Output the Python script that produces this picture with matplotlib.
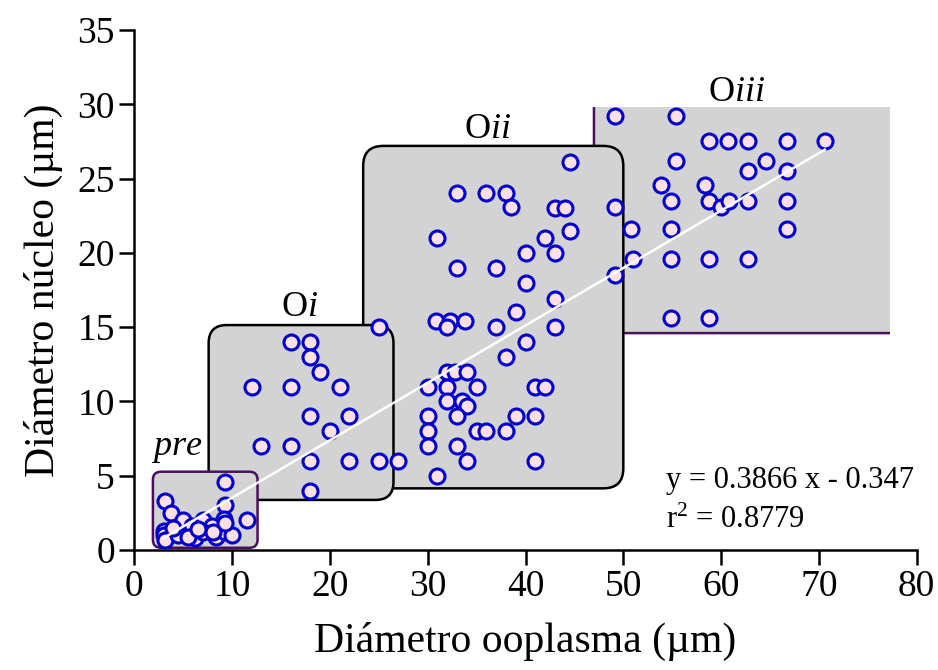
import matplotlib
matplotlib.use("Agg")
import matplotlib.pyplot as plt
from matplotlib.patches import FancyBboxPatch, Rectangle

plt.rcParams['font.family'] = ['Liberation Serif', 'DejaVu Serif']
plt.rcParams['mathtext.fontset'] = 'custom'
plt.rcParams['mathtext.rm'] = 'Liberation Serif'
plt.rcParams['mathtext.it'] = 'Liberation Serif:italic'

# measured diameters (um), one list per oocyte stage
pre_x = [3.1, 9.3, 9.3, 3.8, 5.0, 7.0, 9.2, 11.5, 3.0, 3.0, 3.1, 4.5, 5.9, 6.2,
         6.2, 7.9, 8.4, 9.3, 10.0, 9.3, 4.0, 5.5, 7.0, 8.0, 6.5]
pre_y = [3.3, 4.6, 3.0, 2.5, 2.0, 2.0, 2.1, 2.0, 1.3, 1.0, 0.7, 1.0, 1.6, 1.0,
         0.8, 1.6, 0.9, 1.2, 1.0, 1.8, 1.5, 0.9, 1.2, 1.2, 1.4]

oi_x = [16, 18, 18, 19, 12, 16, 21, 18, 22, 20, 13, 16, 18, 22, 25, 27, 18, 25]
oi_y = [14, 14, 13, 12, 11, 11, 11, 9, 9, 8, 7, 7, 6, 6, 6, 6, 4, 15]

oii_x = [44.5, 33, 36, 38, 38.5, 43, 44, 44.5, 31, 42, 40, 43, 33, 37, 40, 43,
         39, 30.8, 32.3, 33.8, 32, 37, 43, 40, 38, 32, 32.8, 34, 30, 32, 35, 41,
         42, 32, 33.5, 34, 30, 33, 39, 41, 30, 35, 36, 38, 30, 33, 34, 41, 31]
oii_y = [26.1, 24, 24, 24, 23.1, 23, 23, 21.5, 21, 21, 20, 20, 19, 19, 18, 16.9,
         16, 15.4, 15.4, 15.4, 15, 15, 15, 14, 13, 12, 12, 12, 11, 11, 11, 11,
         11, 10, 10, 9.7, 9, 9, 9, 9, 8, 8, 8, 8, 7, 7, 6, 6, 5]

oiii_x = [49.2, 55.4, 58.8, 60.7, 62.7, 66.7, 70.6, 55.4, 64.6, 62.7, 66.7, 53.9,
          58.4, 54.9, 58.8, 60.0, 60.8, 62.7, 66.7, 49.2, 50.8, 54.9, 66.7, 51.0,
          54.9, 58.8, 62.7, 49.2, 54.9, 58.8]
oiii_y = [29.2, 29.2, 27.5, 27.5, 27.5, 27.5, 27.5, 26.2, 26.2, 25.5, 25.5, 24.6,
          24.6, 23.5, 23.5, 23.1, 23.5, 23.5, 23.5, 23.1, 21.6, 21.6, 21.6, 19.6,
          19.6, 19.6, 19.6, 18.5, 15.6, 15.6]

# linear fit shown on the chart
slope = 0.3866
intercept = -0.347
r2 = 0.8779

# stage boxes: name, x0, x1, y0, y1
stage_names = ['Oiii', 'Oii', 'Oi', 'pre']
stage_x0 = [47.0, 23.4, 7.6, 1.9]
stage_x1 = [84.0, 50.0, 26.5, 12.6]
stage_y0 = [14.6, 4.15, 3.37, 0.15]
stage_y1 = [31.0, 27.2, 15.14, 5.27]
edge_colors = ['#4a0f5c', 'black', 'black', '#4a0f5c']
corner_px = [16, 20, 18, 8]

fig = plt.figure(figsize=(9.38, 6.70), dpi=100)
ax = fig.add_axes([0.1432, 0.1791, 0.8341, 0.7761])
ax.set_xlim(0, 80)
ax.set_ylim(0, 35)

px_x = 0.8341 * 938 / 80
px_y = 0.7761 * 670 / 35
for i in range(4):
    box = FancyBboxPatch((stage_x0[i], stage_y0[i]),
                         stage_x1[i] - stage_x0[i], stage_y1[i] - stage_y0[i],
                         boxstyle=f"round,pad=0,rounding_size={corner_px[i] / px_x}",
                         mutation_aspect=px_x / px_y,
                         facecolor='#d3d3d3', edgecolor=edge_colors[i],
                         linewidth=1.8, zorder=1 + i)
    ax.add_patch(box)
    if stage_names[i] == 'Oiii':
        clip = Rectangle((40, 10), 77.3 - 40, 29.8 - 10, transform=ax.transData)
        box.set_clip_path(clip)

all_x = pre_x + oi_x + oii_x + oiii_x
all_y = pre_y + oi_y + oii_y + oiii_y
ax.plot(all_x, all_y, linestyle='none', marker='o', markersize=10.8,
        markerfacecolor='#ffe0e3', markeredgecolor='#0000cc',
        markeredgewidth=2.2, zorder=10, clip_on=False)

fx = [min(all_x), max(all_x)]
fy = [slope * v + intercept for v in fx]
ax.plot(fx, fy, color='white', linewidth=1.8, zorder=11)

lab_size = 26
ax.text(4.3, 6.8, r'$\mathit{pre}$', ha='center', va='center', fontsize=lab_size)
ax.text(16.9, 16.3, r'$\mathrm{O}\mathit{i}$', ha='center', va='center', fontsize=lab_size)
ax.text(36.1, 28.3, r'$\mathrm{O}\mathit{ii}$', ha='center', va='center', fontsize=lab_size)
ax.text(61.6, 30.8, r'$\mathrm{O}\mathit{iii}$', ha='center', va='center', fontsize=lab_size)

ax.text(54.4, 4.7, f'y = {slope} x - {abs(intercept)}', ha='left', va='center', fontsize=22)
ax.text(54.4, 2.0, f'r$^2$ = {r2}', ha='left', va='center', fontsize=22)

ax.set_xticks(range(0, 81, 10))
ax.set_yticks(range(0, 36, 5))
ax.tick_params(direction='out', length=10.5, width=1.8, labelsize=27, pad=3.5)
for s in ['top', 'right']:
    ax.spines[s].set_visible(False)
for s in ['left', 'bottom']:
    ax.spines[s].set_linewidth(1.8)

ax.set_xlabel('Diámetro ooplasma (µm)', fontsize=30, labelpad=13)
ax.set_ylabel('Diámetro núcleo (µm)', fontsize=30, labelpad=10)

fig.savefig('out.png', dpi=100)
